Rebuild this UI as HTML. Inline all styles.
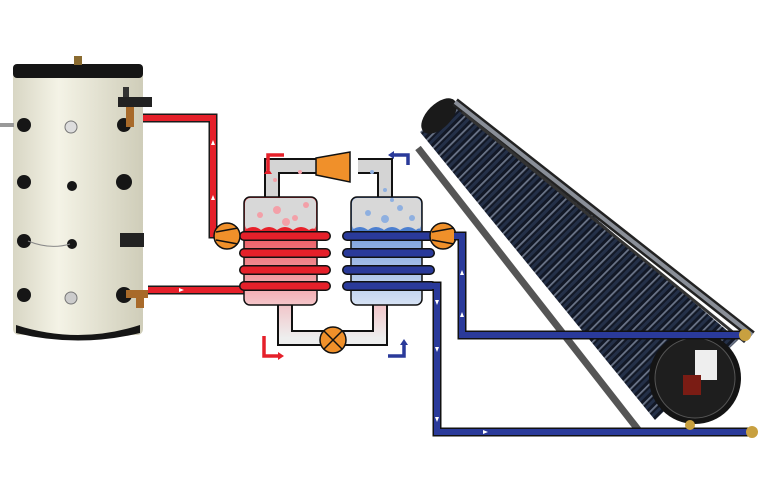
<!DOCTYPE html>
<html><head><meta charset="utf-8"><style>html,body{margin:0;padding:0;background:#fff}svg{display:block}</style></head>
<body>
<svg width="768" height="480" viewBox="0 0 768 480" xmlns="http://www.w3.org/2000/svg">
<defs>
<linearGradient id="tank" x1="0" x2="1"><stop offset="0" stop-color="#d8d6c4"/><stop offset=".35" stop-color="#f4f3e6"/><stop offset="1" stop-color="#cfcdb9"/></linearGradient>
<linearGradient id="redv" x1="0" y1="0" x2="0" y2="1"><stop offset="0" stop-color="#e8202a"/><stop offset="1" stop-color="#f5c6ca"/></linearGradient>
<linearGradient id="bluev" x1="0" y1="0" x2="0" y2="1"><stop offset="0" stop-color="#4c7fd0"/><stop offset="1" stop-color="#d6e2f4"/></linearGradient>
<linearGradient id="lowl" x1="0" y1="0" x2="0" y2="1"><stop offset="0" stop-color="#f2c0c4"/><stop offset="1" stop-color="#eeeeee"/></linearGradient>
<pattern id="ribs" width="10" height="10" patternUnits="userSpaceOnUse" patternTransform="rotate(-45)">
<rect width="10" height="10" fill="#121826"/><rect y="0" width="10" height="1.8" fill="#6a7488"/><rect y="4" width="10" height="3" fill="#243048"/></pattern>
</defs>

<!-- tank -->
<rect x="13" y="70" width="130" height="265" rx="6" fill="url(#tank)"/>
<rect x="13" y="64" width="130" height="14" rx="4" fill="#151515"/>
<rect x="74" y="56" width="8" height="9" fill="#8a6b30"/>
<path d="M16 325 Q78 345 140 325 L140 333 Q78 348 16 333Z" fill="#151515"/>
<g fill="#161616">
<circle cx="24" cy="125" r="7"/><circle cx="124" cy="125" r="7"/>
<circle cx="24" cy="182" r="7"/><circle cx="124" cy="182" r="8"/><circle cx="72" cy="186" r="5"/>
<circle cx="24" cy="241" r="7"/><circle cx="72" cy="244" r="5"/>
<circle cx="24" cy="295" r="7"/><circle cx="124" cy="295" r="8"/>
</g>
<circle cx="71" cy="127" r="6" fill="#ddd" stroke="#777"/>
<circle cx="71" cy="298" r="6" fill="#ccc" stroke="#777"/>
<rect x="0" y="123" width="14" height="4" fill="#999"/>
<rect x="118" y="97" width="34" height="10" fill="#222"/>
<rect x="123" y="87" width="6" height="10" fill="#333"/>
<rect x="120" y="233" width="24" height="14" fill="#222"/>
<path d="M28 241 Q50 250 70 244" stroke="#888" fill="none"/>
<rect x="126" y="107" width="8" height="20" fill="#a86a2a"/>
<rect x="126" y="290" width="22" height="8" fill="#a86a2a"/>
<rect x="136" y="294" width="8" height="14" fill="#a86a2a"/>

<!-- red pipes -->
<g stroke="#1a1a1a" stroke-width="9" fill="none"><path d="M143 118 H213 V234 H222"/><path d="M148 290 H246"/></g>
<g stroke="#e5202a" stroke-width="6" fill="none"><path d="M143 118 H213 V234 H222"/><path d="M148 290 H246"/></g>
<g fill="#fff"><path d="M213 140 l-2 5 h4z"/><path d="M213 195 l-2 5 h4z"/><path d="M184 290 l-5 -2 v4z"/></g>

<!-- heat pump loops -->
<path d="M272 200 V166 H325 M358 166 H385 V200" stroke="#111" stroke-width="16" fill="none"/>
<path d="M272 200 V166 H325 M358 166 H385 V200" stroke="#d4d4d4" stroke-width="12" fill="none"/>
<path d="M285 300 V338 H380 V300" stroke="#111" stroke-width="16" fill="none"/>
<path d="M285 300 V338 H380 V300" stroke="url(#lowl)" stroke-width="12" fill="none"/>
<rect x="244" y="197" width="73" height="108" rx="6" fill="url(#redv)" stroke="#111" stroke-width="1.5"/>
<rect x="245" y="198" width="71" height="32" rx="5" fill="#d8d8d8"/>
<path d="M245 230 q8 -6 16 0 q8 -6 16 0 q8 -6 16 0 q8 -6 16 0 q4 -3 7 0 v4 h-71z" fill="#e8202a"/>
<g fill="#f3a0a8"><circle cx="260" cy="215" r="3"/><circle cx="277" cy="210" r="4"/><circle cx="295" cy="218" r="3"/><circle cx="306" cy="205" r="3"/><circle cx="286" cy="222" r="4"/><circle cx="275" cy="180" r="2"/><circle cx="300" cy="172" r="2"/></g>
<rect x="351" y="197" width="71" height="108" rx="6" fill="url(#bluev)" stroke="#111" stroke-width="1.5"/>
<rect x="352" y="198" width="69" height="32" rx="5" fill="#d8d8d8"/>
<path d="M352 230 q8 -6 16 0 q8 -6 16 0 q8 -6 16 0 q8 -6 16 0 q3 -3 5 0 v4 h-69z" fill="#4c7fd0"/>
<g fill="#8fb0e0"><circle cx="368" cy="213" r="3"/><circle cx="385" cy="219" r="4"/><circle cx="400" cy="208" r="3"/><circle cx="412" cy="218" r="3"/><circle cx="392" cy="200" r="2"/><circle cx="372" cy="172" r="2"/><circle cx="385" cy="190" r="2"/></g>
<g stroke="#111" stroke-width="10" stroke-linecap="round"><path d="M244 236 H326 M244 253 H326 M244 270 H326 M244 286 H326"/><path d="M347 236 H432 M347 253 H430 M347 270 H430 M347 286 H432"/></g>
<g stroke="#e5202a" stroke-width="7" stroke-linecap="round"><path d="M244 236 H326 M244 253 H326 M244 270 H326 M244 286 H326"/></g>
<g stroke="#2a3a9a" stroke-width="7" stroke-linecap="round"><path d="M347 236 H432 M347 253 H430 M347 270 H430 M347 286 H432"/></g>
<path d="M316 158 L350 152 L350 182 L316 175Z" fill="#f0902a" stroke="#111" stroke-width="1.5"/>
<g stroke="#111" stroke-width="1.5"><circle cx="227" cy="236" r="13" fill="#f0902a"/><circle cx="443" cy="236" r="13" fill="#f0902a"/><circle cx="333" cy="340" r="13" fill="#f0902a"/></g>
<path d="M216 232 L238 228 M216 240 L238 244 M432 232 L454 228 M432 240 L454 244 M324 331 L342 349 M342 331 L324 349" stroke="#111" stroke-width="1.5"/>
<g stroke-width="3.5" fill="none"><path d="M284 155 H268 V170" stroke="#e5202a"/><path d="M264 336 V356 H278" stroke="#e5202a"/><path d="M408 165 V155 H394" stroke="#2a3a9a"/><path d="M388 356 H404 V345" stroke="#2a3a9a"/></g>
<g><path d="M264 174 l4 -6 4 6z" fill="#e5202a"/><path d="M278 352 l6 4 -6 4z" fill="#e5202a"/><path d="M394 151 l-6 4 6 4z" fill="#2a3a9a"/><path d="M400 345 l4 -6 4 6z" fill="#2a3a9a"/></g>

<!-- collector -->
<path d="M418 148 L640 432" stroke="#555" stroke-width="7"/>
<path d="M458 100 L738 340 L655 420 L420 132Z" fill="url(#ribs)"/>
<ellipse cx="439" cy="116" rx="12" ry="22" transform="rotate(45 439 116)" fill="#1a1a1a"/>
<circle cx="695" cy="378" r="46" fill="#141414"/>
<circle cx="695" cy="378" r="40" fill="#1e1e1e" stroke="#555"/>
<rect x="695" y="350" width="22" height="30" fill="#eee"/><rect x="683" y="375" width="18" height="20" fill="#7a1c14"/>
<path d="M455 102 L752 335" stroke="#222" stroke-width="9"/><path d="M455 102 L752 335" stroke="#8a8f98" stroke-width="4"/>
<path d="M462 112 L745 342" stroke="#333" stroke-width="3"/>

<!-- blue pipes -->
<g stroke="#111" stroke-width="9" fill="none"><path d="M454 236 H462 V335 H745"/><path d="M432 286 H437 V432 H752"/></g>
<g stroke="#2a3a9a" stroke-width="6" fill="none"><path d="M454 236 H462 V335 H745"/><path d="M432 286 H437 V432 H752"/></g>
<circle cx="745" cy="335" r="6" fill="#c8a040"/><circle cx="752" cy="432" r="6" fill="#c8a040"/><circle cx="690" cy="425" r="5" fill="#c8a040"/>
<g fill="#fff"><path d="M462 270 l-2 5 h4z"/><path d="M462 312 l-2 5 h4z"/><path d="M437 305 l-2 -5 h4z"/><path d="M437 352 l-2 -5 h4z"/><path d="M437 422 l-2 -5 h4z"/><path d="M488 432 l-5 -2 v4z"/></g>
</svg>
</body></html>
